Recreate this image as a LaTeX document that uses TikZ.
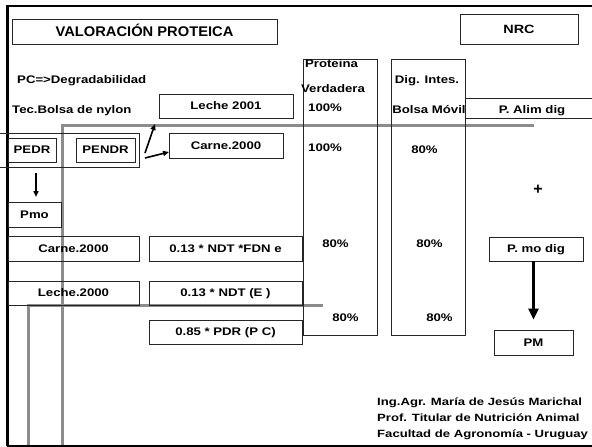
\documentclass[tikz,border=0pt]{standalone}
\usepackage{fontspec}
\setmainfont{Liberation Sans}
\usepackage{graphicx}
\usetikzlibrary{arrows.meta}
\newcommand{\stx}[1]{\scalebox{1.2}[1]{#1}}
\tikzset{
  boxst/.style={draw=black!85, line width=0.9pt, inner sep=0pt},
  tx/.style={inner sep=0pt, font=\fontsize{11}{13}\selectfont\bfseries, text height=7.9pt, text depth=0pt},
  credit/.style={inner sep=0pt, anchor=base west, font=\fontsize{10.5}{12}\selectfont\bfseries},
  graybar/.style={draw=black!45, line width=3pt},
  arr/.style={line width=1.6pt, -{Triangle[length=6pt,width=5pt]}},
  bigarr/.style={line width=3pt, -{Triangle[length=11pt,width=10pt]}},
}
\begin{document}
\begin{tikzpicture}[x=1pt,y=-1pt]
\useasboundingbox (0,0) rectangle (592,447);
% gray lines
\draw[graybar] (62,446) -- (62,125) -- (534,125);
\draw[graybar] (28.5,446) -- (28.5,305.5) -- (323,305.5);
% frame
\draw[line width=2pt] (7,5.5) -- (600,5.5);
\draw[line width=2.8pt] (7.5,4.5) -- (7.5,446);
\draw[line width=2pt] (7,445.8) -- (600,445.8);
% title and NRC
\node[boxst, tx, font=\fontsize{14}{16}\selectfont\bfseries, text height=10pt, minimum width=265pt, minimum height=25pt] (title) at (144.5,31.5) {\scalebox{1.05}[1]{VALORACIÓN PROTEICA}};
\node[boxst, tx, font=\fontsize{12}{14}\selectfont\bfseries, text height=8.6pt, minimum width=118pt, minimum height=30pt] (nrc) at (519,29) {\stx{NRC}};
% left texts
\node[tx, anchor=west] (pc) at (17,80) {\stx{PC=>Degradabilidad}};
\node[tx, anchor=west] (tec) at (12,110) {\stx{Tec.Bolsa de nylon}};
% boxes
\node[boxst, tx, minimum width=134pt, minimum height=24pt] (leche01) at (226,106) {\stx{Leche 2001}};
\node[boxst, tx, minimum width=114pt, minimum height=25pt] (carneA) at (226,145.5) {\stx{Carne.2000}};
\draw[black!85, line width=0.9pt] (0,133) -- (139,133) -- (139,167) -- (0,167);
\node[boxst, tx, minimum width=48pt, minimum height=24pt] (pedr) at (32,150) {\stx{PEDR}};
\node[boxst, tx, minimum width=59pt, minimum height=24pt] (pendr) at (105.5,150) {\stx{PENDR}};
\node[boxst, tx, minimum width=53pt, minimum height=25pt] (pmo) at (34.5,214.5) {\stx{Pmo}};
\node[boxst, tx, minimum width=131pt, minimum height=25pt] (carneB) at (73.5,248.5) {\stx{Carne.2000}};
\node[boxst, tx, minimum width=153pt, minimum height=25pt] (ndt1) at (225.5,248.5) {\stx{0.13 * NDT *FDN e}};
\node[boxst, tx, minimum width=131pt, minimum height=24pt] (lecheB) at (73.5,293) {\stx{Leche.2000}};
\node[boxst, tx, minimum width=153pt, minimum height=24pt] (ndt2) at (225.5,293) {\stx{0.13 * NDT (E )}};
\node[boxst, tx, minimum width=153pt, minimum height=24pt] (pdr) at (225.5,332) {\stx{0.85 * PDR (P C)}};
% columns
\node[boxst, minimum width=74pt, minimum height=276pt] (colP) at (340,197) {};
\node[boxst, minimum width=74pt, minimum height=276pt] (colD) at (428,197) {};
\node[tx] (prot) at (331.5,64) {\stx{Proteina}};
\node[tx] (verd) at (333,89) {\stx{Verdadera}};
\node[tx, anchor=west] (p100a) at (308,108) {\stx{100\%}};
\node[tx] (dig) at (427,80) {\stx{Dig. Intes.}};
\node[tx] (bolsa) at (429,110) {\stx{Bolsa Móvil}};
\node[tx, anchor=west] (p100b) at (308,148) {\stx{100\%}};
\node[tx] (d80a) at (424.5,150) {\stx{80\%}};
\node[tx] (p80a) at (335.5,244) {\stx{80\%}};
\node[tx] (d80b) at (429.5,244) {\stx{80\%}};
\node[tx] (p80b) at (345.5,318) {\stx{80\%}};
\node[tx] (d80c) at (439.5,318) {\stx{80\%}};
% right side
\node[boxst, minimum width=135pt, minimum height=20pt] (alimbox) at (532.5,108) {};
\node[tx] (alim) at (532,110) {\stx{P. Alim dig}};
\node[inner sep=0pt, font=\fontsize{16}{18}\selectfont\bfseries] (plus) at (538,190) {+};
\node[boxst, tx, minimum width=94pt, minimum height=24pt] (pmodig) at (536,249) {\stx{P. mo dig}};
\node[boxst, tx, minimum width=79pt, minimum height=25pt] (pm) at (533.5,342.5) {\stx{PM}};
% arrows
\coordinate (a1s) at (145,153);
\coordinate (a1e) at (155,124);
\coordinate (a2s) at (145,158);
\coordinate (a2e) at (169,152);
\coordinate (a3s) at (36,173);
\coordinate (a3e) at (36,197);
\draw[arr] (a1s) -- (a1e);
\draw[arr] (a2s) -- (a2e);
\draw[arr] (a3s) -- (a3e);
\draw[bigarr, shorten >=10pt] (pmodig.south -| pm.north) -- (pm.north);
% credits
\node[credit] (cr1) at (377,405.5) {\scalebox{1.25}[1]{Ing.Agr. María de Jesús Marichal}};
\node[credit] (cr2) at (377,421) {\scalebox{1.25}[1]{Prof. Titular de Nutrición Animal}};
\node[credit] (cr3) at (377,437) {\scalebox{1.25}[1]{Facultad de Agronomía - Uruguay}};
\end{tikzpicture}
\end{document}
